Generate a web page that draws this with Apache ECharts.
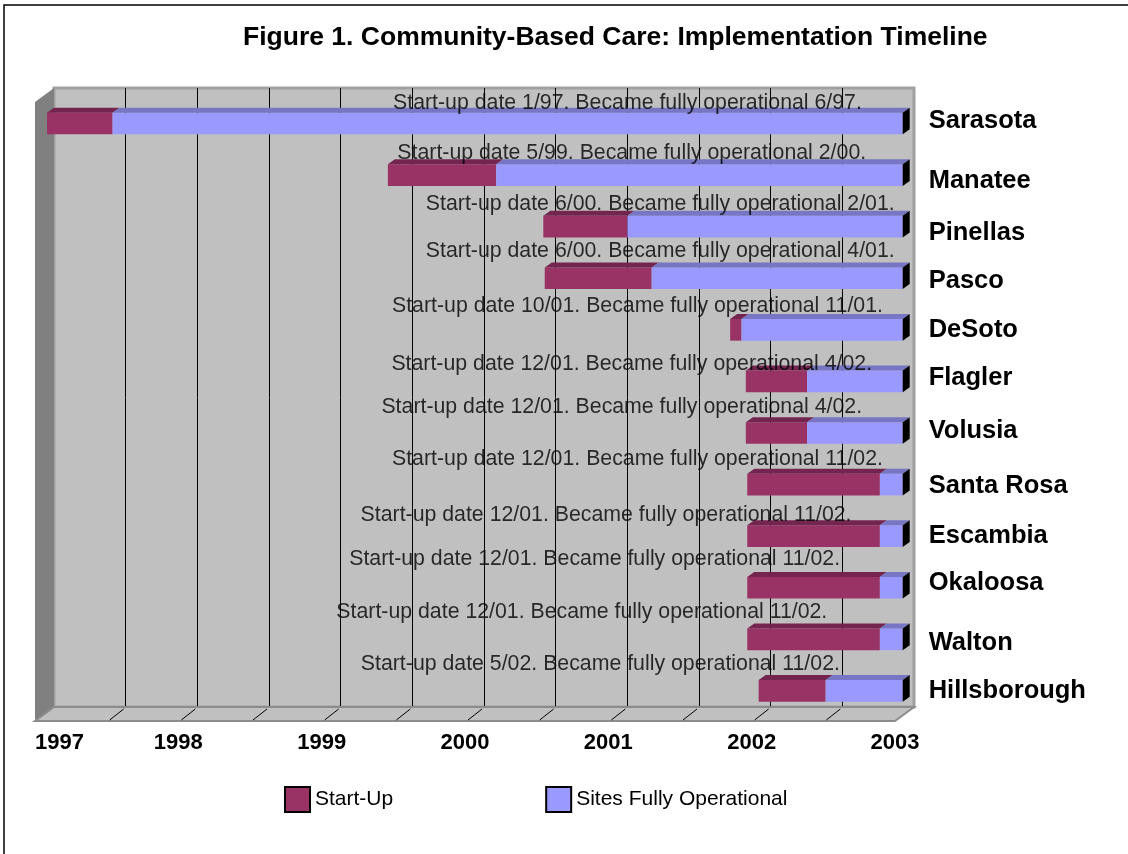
<!DOCTYPE html>
<html>
<head>
<meta charset="utf-8">
<title>Community-Based Care: Implementation Timeline</title>
<script src="https://cdn.jsdelivr.net/npm/echarts@6/dist/echarts.min.js"></script>
<style>
  html, body { margin: 0; padding: 0; background: #fff; }
  #chart { width: 1128px; height: 854px; }
</style>
</head>
<body>
<div id="chart"></div>
<script>
// counties, top to bottom
var counties = ['Sarasota', 'Manatee', 'Pinellas', 'Pasco', 'DeSoto', 'Flagler', 'Volusia',
  'Santa Rosa', 'Escambia', 'Okaloosa', 'Walton', 'Hillsborough'];
// start-up date, as decimal year
var startUp = [1997.00, 1999.39, 2000.48, 2000.49, 2001.79, 2001.90, 2001.90,
  2001.91, 2001.91, 2001.91, 2001.91, 2001.99];
// date the site became fully operational
var fullyOp = [1997.46, 2000.15, 2001.07, 2001.24, 2001.87, 2002.33, 2002.33,
  2002.84, 2002.84, 2002.84, 2002.84, 2002.46];
// every bar runs to the end of the timeline
var timelineEnd = 2003;
var notes = [
  'Start-up date 1/97. Became fully operational 6/97.',
  'Start-up date 5/99. Became fully operational 2/00.',
  'Start-up date 6/00. Became fully operational 2/01.',
  'Start-up date 6/00. Became fully operational 4/01.',
  'Start-up date 10/01. Became fully operational 11/01.',
  'Start-up date 12/01. Became fully operational 4/02.',
  'Start-up date 12/01. Became fully operational 4/02.',
  'Start-up date 12/01. Became fully operational 11/02.',
  'Start-up date 12/01. Became fully operational 11/02.',
  'Start-up date 12/01. Became fully operational 11/02.',
  'Start-up date 12/01. Became fully operational 11/02.',
  'Start-up date 5/02. Became fully operational 11/02.'
];

// where each note sits: centre (in years) and lift above its bar (px)
var noteX = [2001.07, 2001.10, 2001.30, 2001.30, 2001.14, 2001.10, 2001.03,
  2001.14, 2000.92, 2000.84, 2000.75, 2000.88];
var noteDy = [-20.5, -22, -22.3, -27, -24, -17.7, -26.3, -25.5, -21, -28.5, -27.7, -26.5];
// county names are not quite level with their bars in the original (px, + is down)
var nameShift = [-3, 6, 6, 3, 0, -3, -2, 1, 0, -5, 4, 0];

var FONT = '"Liberation Sans", Arial, sans-serif';
var back = { left: 54, top: 88, right: 914, bottom: 707 };  // back wall of the 3d box
var depth = [-19, 14];                                     // back wall -> front edge
var barDepth = [7, -5];                                    // bar front -> bar back

var startData = [], opData = [], noteData = [], nameRich = {};
for (var i = 0; i < counties.length; i++) {
  startData.push([startUp[i], fullyOp[i], i]);
  opData.push([fullyOp[i], timelineEnd, i]);
  noteData.push({ value: [noteX[i], i], label: { offset: [0, noteDy[i]] } });
  var s = nameShift[i];
  nameRich['n' + i] = { color: '#000', fontFamily: FONT, fontSize: 25.5, fontWeight: 'bold',
    padding: [s > 0 ? 2 * s : 0, 0, s < 0 ? -2 * s : 0, 0] };
}

function barRenderer(topColor, withEnd) {
  return function (params, api) {
    var cat = api.value(2);
    var p0 = api.coord([api.value(0), cat]);
    var p1 = api.coord([api.value(1), cat]);
    var h = api.size([0, 1])[1] * 0.42;
    var top = p0[1] - h / 2, bot = p0[1] + h / 2;
    var bx = barDepth[0], by = barDepth[1];
    var kids = [
      { type: 'rect', shape: { x: p0[0], y: top, width: p1[0] - p0[0], height: h },
        style: { fill: api.visual('color') } },
      { type: 'polygon', shape: { points: [[p0[0], top], [p0[0] + bx, top + by], [p1[0] + bx, top + by], [p1[0], top]] },
        style: { fill: topColor } }
    ];
    if (withEnd) {
      kids.push({ type: 'polygon', shape: { points: [[p1[0], top], [p1[0] + bx, top + by], [p1[0] + bx, bot + by], [p1[0], bot]] },
        style: { fill: '#000' } });
    }
    return { type: 'group', children: kids };
  };
}

var chart = echarts.init(document.getElementById('chart'));

var yearFmt = function (v) { return String(v); };

var option = {
  backgroundColor: '#fff',
  animation: false,
  title: {
    text: 'Figure 1. Community-Based Care: Implementation Timeline',
    left: 243, top: 24, padding: 0,
    textStyle: { fontFamily: FONT, fontSize: 26.5, fontWeight: 'bold', color: '#000' }
  },
  legend: {
    left: 284, top: 786, padding: 0, itemGap: 152,
    itemWidth: 25, itemHeight: 25,
    textStyle: { fontFamily: FONT, fontSize: 21, color: '#000' },
    data: [
      { name: 'Start-Up', icon: 'rect', itemStyle: { color: '#993366', borderColor: '#000', borderWidth: 2 } },
      { name: 'Sites Fully Operational', icon: 'rect', itemStyle: { color: '#9999ff', borderColor: '#000', borderWidth: 2 } }
    ]
  },
  grid: [
    // back wall with the half-year grid lines
    { left: back.left, top: back.top, width: back.right - back.left, height: back.bottom - back.top,
      show: true, backgroundColor: '#c0c0c0', borderColor: '#a0a0a0', borderWidth: 3, outerBoundsMode: 'none' },
    // plane of the bars
    { left: 47, top: 97.7, width: 855.7, height: 619, outerBoundsMode: 'none' },
    // front edge of the floor, carries the year labels
    { left: back.left + depth[0], top: back.top + depth[1], width: back.right - back.left,
      height: back.bottom - back.top, outerBoundsMode: 'none' }
  ],
  xAxis: [
    { gridIndex: 0, type: 'value', min: 1997, max: timelineEnd, interval: 0.5,
      axisLine: { show: false }, axisTick: { show: false }, axisLabel: { show: false },
      splitLine: { show: true, showMinLine: false, showMaxLine: false, lineStyle: { color: '#000', width: 1 } } },
    { gridIndex: 1, type: 'value', min: 1997, max: timelineEnd, show: false, splitLine: { show: false } },
    { gridIndex: 2, type: 'value', min: 1997, max: timelineEnd, interval: 1,
      axisLine: { show: false }, axisTick: { show: false }, splitLine: { show: false },
      axisLabel: { formatter: yearFmt, margin: 11, alignMinLabel: 'left', color: '#000',
        fontFamily: FONT, fontSize: 22, fontWeight: 'bold' } }
  ],
  yAxis: [
    { gridIndex: 0, type: 'category', data: counties, show: false },
    { gridIndex: 1, type: 'category', data: counties, inverse: true, position: 'right',
      axisLine: { show: false }, axisTick: { show: false }, splitLine: { show: false },
      axisLabel: { align: 'left', margin: 26, color: '#000', fontFamily: FONT, fontSize: 25.5, fontWeight: 'bold',
        formatter: function (v, idx) { return '{n' + idx + '|' + v + '}'; }, rich: nameRich } },
    { gridIndex: 2, type: 'value', show: false }
  ],
  series: [
    { name: 'Start-Up', type: 'custom', xAxisIndex: 1, yAxisIndex: 1,
      itemStyle: { color: '#993366' }, encode: { x: [0, 1], y: 2 },
      renderItem: barRenderer('#74254f', false), data: startData },
    { name: 'Sites Fully Operational', type: 'custom', xAxisIndex: 1, yAxisIndex: 1,
      itemStyle: { color: '#9999ff' }, encode: { x: [0, 1], y: 2 },
      renderItem: barRenderer('#7676c4', true), data: opData },
    { name: 'notes', type: 'scatter', xAxisIndex: 1, yAxisIndex: 1, symbolSize: 0, silent: true, z: 3,
      label: { show: true, position: 'inside', color: '#000', fontFamily: FONT, fontSize: 21.3,
        formatter: function (p) { return notes[p.dataIndex]; } },
      data: noteData }
  ]
};
chart.setOption(option);

// side wall, floor and outer frame
function drawBox() {
  var dx = depth[0], dy = depth[1];
  var g = [];
  g.push({ type: 'polygon', z: 1, shape: { points: [[back.left, back.top], [back.left + dx, back.top + dy],
    [back.left + dx, back.bottom + dy], [back.left, back.bottom]] }, style: { fill: '#808080' } });
  g.push({ type: 'polygon', z: 1, shape: { points: [[back.left, back.bottom], [back.right, back.bottom],
    [back.right + dx, back.bottom + dy], [back.left + dx, back.bottom + dy]] },
    style: { fill: '#c0c0c0', stroke: '#8c8c8c', lineWidth: 2 } });
  // short slanted ticks on the floor under each grid line
  for (var t = 1997.5; t < timelineEnd; t += 0.5) {
    var gx = chart.convertToPixel({ xAxisIndex: 0 }, t);
    g.push({ type: 'line', z: 1, shape: { x1: gx - 2, y1: back.bottom + 2, x2: gx - 16, y2: back.bottom + dy - 1 },
      style: { stroke: '#000', lineWidth: 1 } });
  }
  g.push({ type: 'rect', z: 1, shape: { x: 4, y: 5, width: 1200, height: 900 },
    style: { fill: null, stroke: '#000', lineWidth: 1.5 } });
  chart.setOption({ graphic: g });
}
drawBox();
</script>
</body>
</html>
